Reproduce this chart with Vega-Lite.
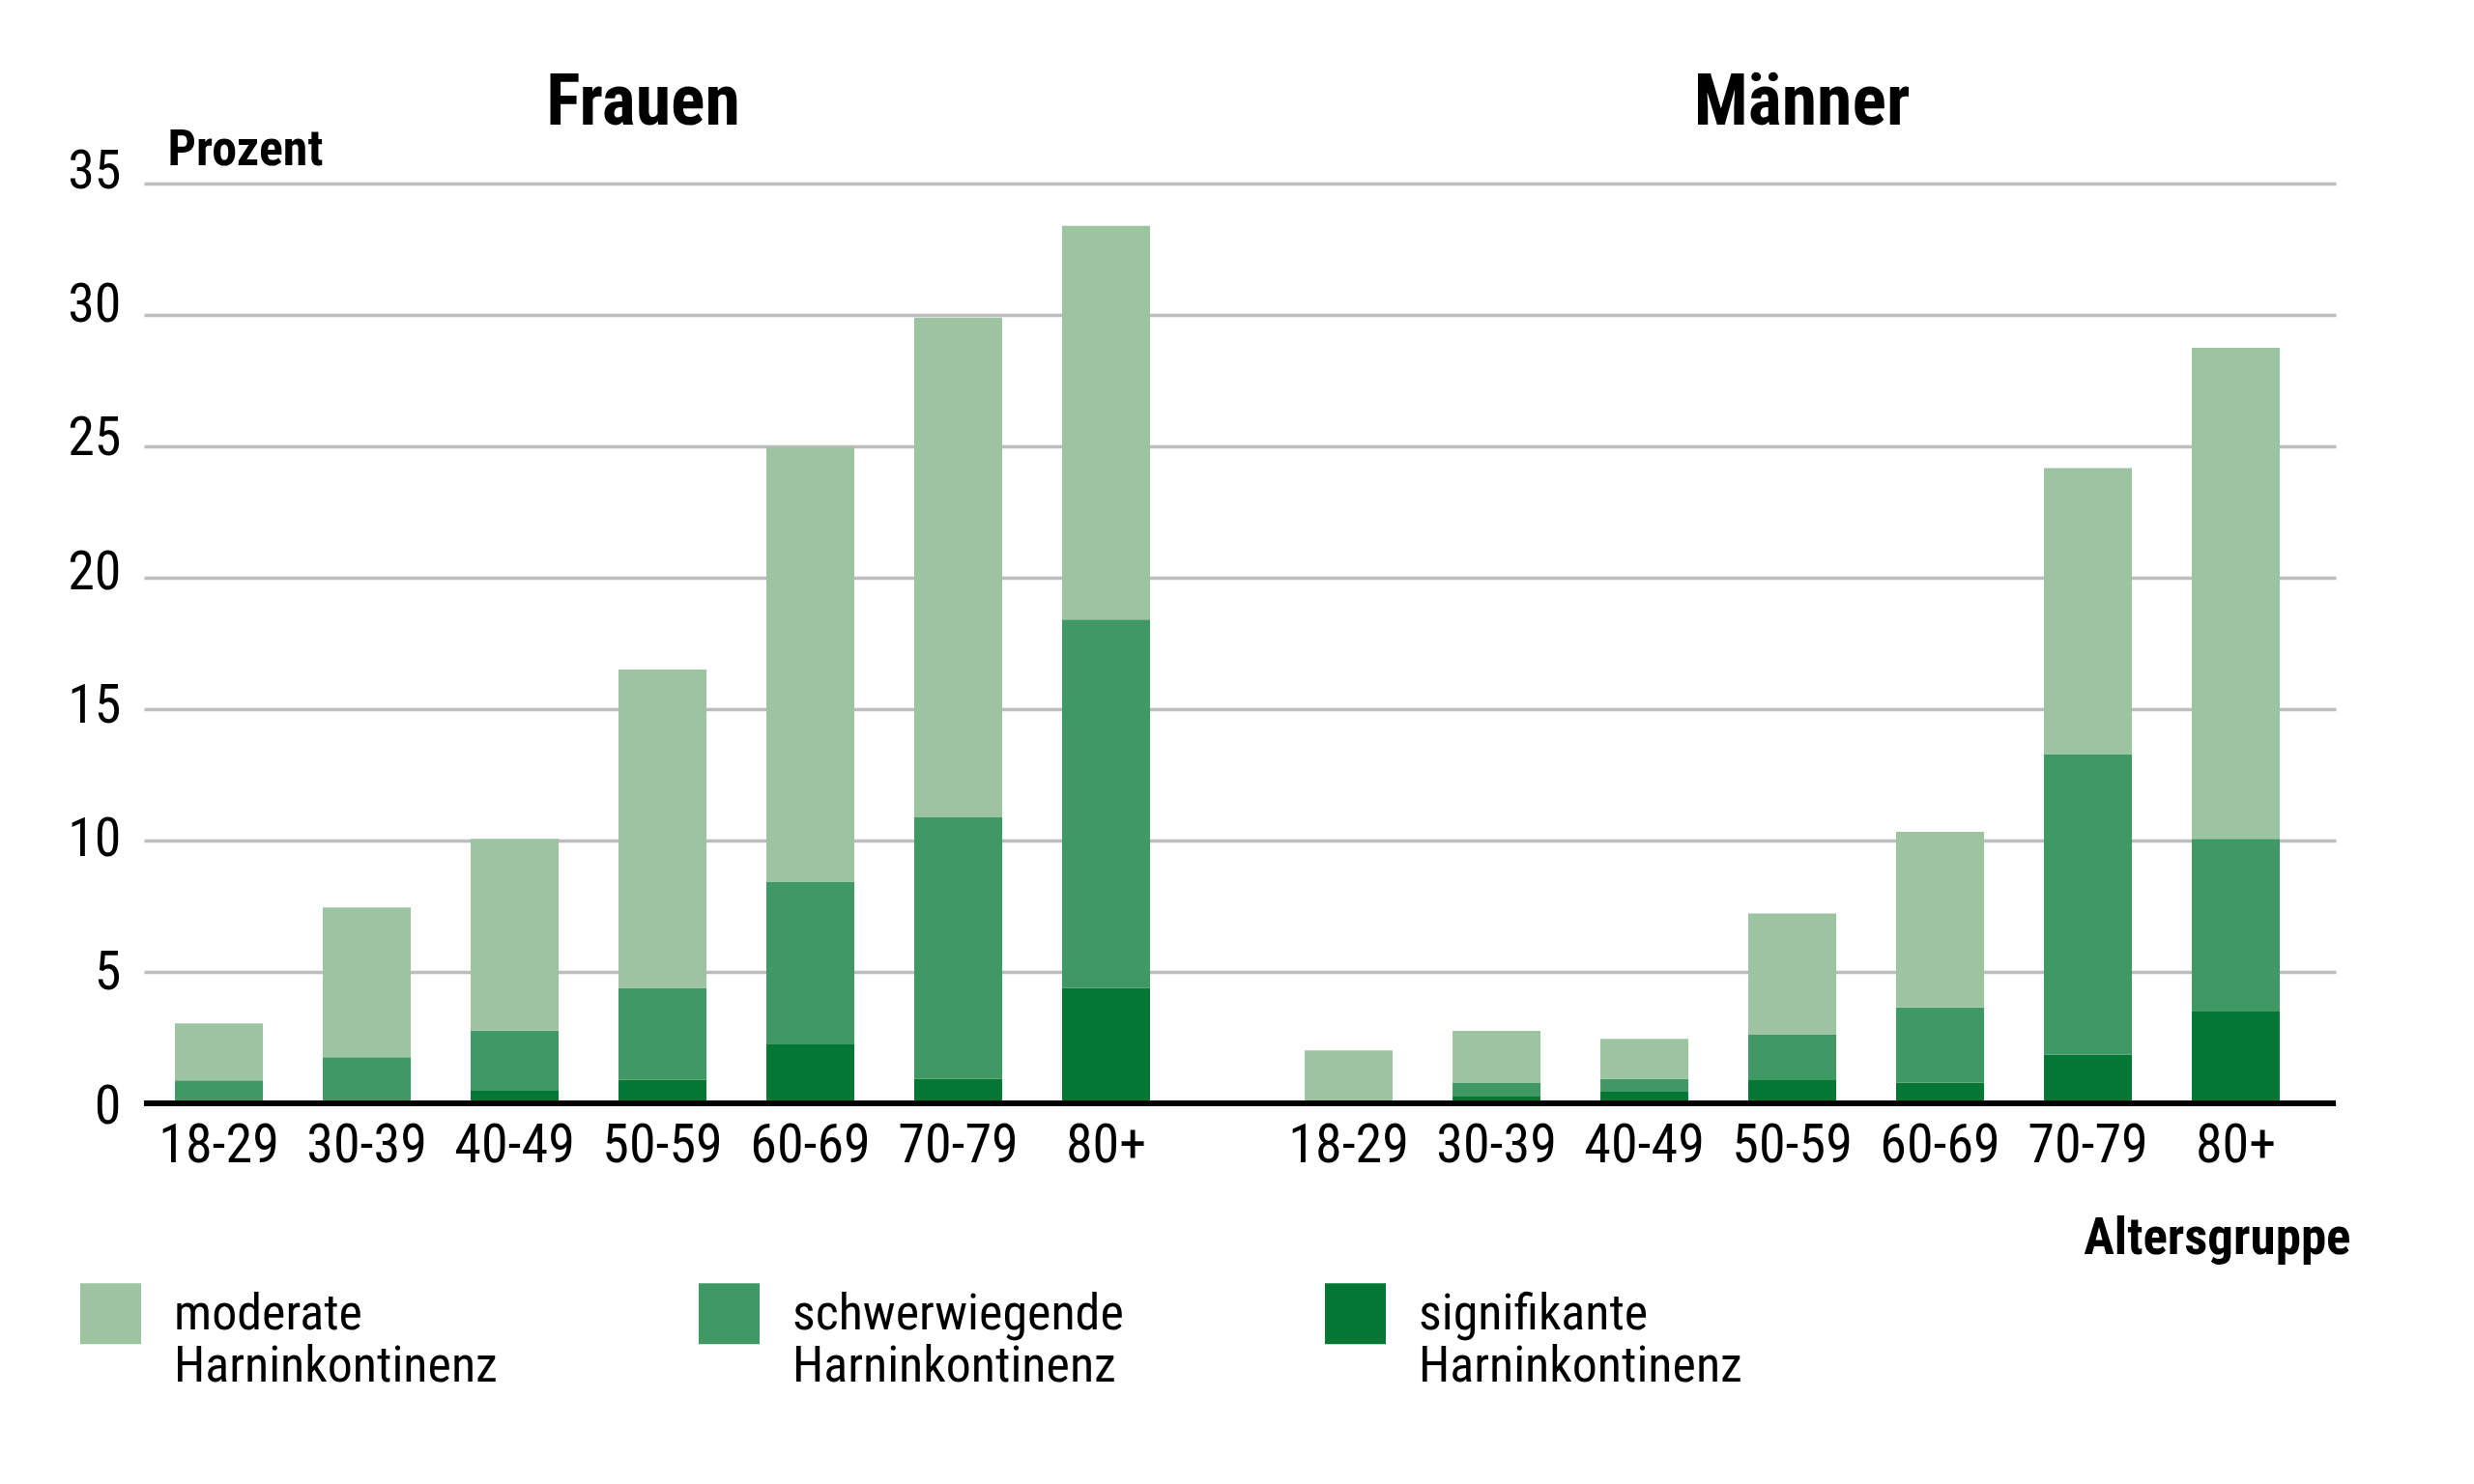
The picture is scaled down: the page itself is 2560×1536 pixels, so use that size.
{
  "$schema": "https://vega.github.io/schema/vega-lite/v6.json",
  "width": 2268,
  "height": 952,
  "autosize": "none",
  "padding": {"left": 149, "top": 190, "right": 143, "bottom": 394},
  "background": "white",
  "config": {
    "font": "'Roboto Condensed', Roboto, sans-serif",
    "view": {"stroke": null}
  },
  "data": {
    "values": [
      {"Geschlecht": "Frauen", "Alter": "18-29", "Typ": "signifikante Harninkontinenz", "Prozent": 0},
      {"Geschlecht": "Frauen", "Alter": "18-29", "Typ": "schwerwiegende Harninkontinenz", "Prozent": 0.87},
      {"Geschlecht": "Frauen", "Alter": "18-29", "Typ": "moderate Harninkontinenz", "Prozent": 2.17},
      {"Geschlecht": "Frauen", "Alter": "30-39", "Typ": "signifikante Harninkontinenz", "Prozent": 0},
      {"Geschlecht": "Frauen", "Alter": "30-39", "Typ": "schwerwiegende Harninkontinenz", "Prozent": 1.76},
      {"Geschlecht": "Frauen", "Alter": "30-39", "Typ": "moderate Harninkontinenz", "Prozent": 5.69},
      {"Geschlecht": "Frauen", "Alter": "40-49", "Typ": "signifikante Harninkontinenz", "Prozent": 0.48},
      {"Geschlecht": "Frauen", "Alter": "40-49", "Typ": "schwerwiegende Harninkontinenz", "Prozent": 2.29},
      {"Geschlecht": "Frauen", "Alter": "40-49", "Typ": "moderate Harninkontinenz", "Prozent": 7.29},
      {"Geschlecht": "Frauen", "Alter": "50-59", "Typ": "signifikante Harninkontinenz", "Prozent": 0.89},
      {"Geschlecht": "Frauen", "Alter": "50-59", "Typ": "schwerwiegende Harninkontinenz", "Prozent": 3.5},
      {"Geschlecht": "Frauen", "Alter": "50-59", "Typ": "moderate Harninkontinenz", "Prozent": 12.12},
      {"Geschlecht": "Frauen", "Alter": "60-69", "Typ": "signifikante Harninkontinenz", "Prozent": 2.24},
      {"Geschlecht": "Frauen", "Alter": "60-69", "Typ": "schwerwiegende Harninkontinenz", "Prozent": 6.2},
      {"Geschlecht": "Frauen", "Alter": "60-69", "Typ": "moderate Harninkontinenz", "Prozent": 16.53},
      {"Geschlecht": "Frauen", "Alter": "70-79", "Typ": "signifikante Harninkontinenz", "Prozent": 0.93},
      {"Geschlecht": "Frauen", "Alter": "70-79", "Typ": "schwerwiegende Harninkontinenz", "Prozent": 9.97},
      {"Geschlecht": "Frauen", "Alter": "70-79", "Typ": "moderate Harninkontinenz", "Prozent": 19.0},
      {"Geschlecht": "Frauen", "Alter": "80+", "Typ": "signifikante Harninkontinenz", "Prozent": 4.39},
      {"Geschlecht": "Frauen", "Alter": "80+", "Typ": "schwerwiegende Harninkontinenz", "Prozent": 14.02},
      {"Geschlecht": "Frauen", "Alter": "80+", "Typ": "moderate Harninkontinenz", "Prozent": 14.98},
      {"Geschlecht": "Männer", "Alter": "18-29", "Typ": "signifikante Harninkontinenz", "Prozent": 0},
      {"Geschlecht": "Männer", "Alter": "18-29", "Typ": "schwerwiegende Harninkontinenz", "Prozent": 0},
      {"Geschlecht": "Männer", "Alter": "18-29", "Typ": "moderate Harninkontinenz", "Prozent": 2.01},
      {"Geschlecht": "Männer", "Alter": "30-39", "Typ": "signifikante Harninkontinenz", "Prozent": 0.26},
      {"Geschlecht": "Männer", "Alter": "30-39", "Typ": "schwerwiegende Harninkontinenz", "Prozent": 0.51},
      {"Geschlecht": "Männer", "Alter": "30-39", "Typ": "moderate Harninkontinenz", "Prozent": 1.99},
      {"Geschlecht": "Männer", "Alter": "40-49", "Typ": "signifikante Harninkontinenz", "Prozent": 0.47},
      {"Geschlecht": "Männer", "Alter": "40-49", "Typ": "schwerwiegende Harninkontinenz", "Prozent": 0.46},
      {"Geschlecht": "Männer", "Alter": "40-49", "Typ": "moderate Harninkontinenz", "Prozent": 1.52},
      {"Geschlecht": "Männer", "Alter": "50-59", "Typ": "signifikante Harninkontinenz", "Prozent": 0.88},
      {"Geschlecht": "Männer", "Alter": "50-59", "Typ": "schwerwiegende Harninkontinenz", "Prozent": 1.75},
      {"Geschlecht": "Männer", "Alter": "50-59", "Typ": "moderate Harninkontinenz", "Prozent": 4.59},
      {"Geschlecht": "Männer", "Alter": "60-69", "Typ": "signifikante Harninkontinenz", "Prozent": 0.78},
      {"Geschlecht": "Männer", "Alter": "60-69", "Typ": "schwerwiegende Harninkontinenz", "Prozent": 2.87},
      {"Geschlecht": "Männer", "Alter": "60-69", "Typ": "moderate Harninkontinenz", "Prozent": 6.68},
      {"Geschlecht": "Männer", "Alter": "70-79", "Typ": "signifikante Harninkontinenz", "Prozent": 1.85},
      {"Geschlecht": "Männer", "Alter": "70-79", "Typ": "schwerwiegende Harninkontinenz", "Prozent": 11.42},
      {"Geschlecht": "Männer", "Alter": "70-79", "Typ": "moderate Harninkontinenz", "Prozent": 10.9},
      {"Geschlecht": "Männer", "Alter": "80+", "Typ": "signifikante Harninkontinenz", "Prozent": 3.49},
      {"Geschlecht": "Männer", "Alter": "80+", "Typ": "schwerwiegende Harninkontinenz", "Prozent": 6.57},
      {"Geschlecht": "Männer", "Alter": "80+", "Typ": "moderate Harninkontinenz", "Prozent": 18.69}
    ]
  },
  "layer": [
    {
      "mark": {"type": "bar"},
      "encoding": {
        "x": {
          "field": "Geschlecht",
          "type": "nominal",
          "scale": {"domain": ["Frauen", "Männer"], "paddingInner": 0.1369, "paddingOuter": 0.0385, "align": 0.356},
          "axis": {
            "orient": "top",
            "domain": false,
            "ticks": false,
            "tickSize": 0,
            "labelPadding": 62,
            "labelFontSize": 74,
            "labelFontWeight": "bold",
            "labelColor": "black",
            "labelBaseline": "alphabetic",
            "labelAngle": 0,
            "labelLimit": 1000,
            "labelOffset": {"condition": {"test": "datum.value === 'Frauen'", "value": -20}, "value": 10},
            "title": "Altersgruppe",
            "titleX": 2283,
            "titleY": 1107,
            "titleAlign": "right",
            "titleBaseline": "alphabetic",
            "titleAngle": 0,
            "titleFontSize": 53,
            "titleFontWeight": "bold",
            "titleColor": "black"
          }
        },
        "xOffset": {
          "field": "Alter",
          "type": "nominal",
          "scale": {"domain": ["18-29", "30-39", "40-49", "50-59", "60-69", "70-79", "80+"], "paddingInner": 0.405, "paddingOuter": 0}
        },
        "y": {
          "field": "Prozent",
          "type": "quantitative",
          "stack": "zero",
          "scale": {"domain": [0, 35], "nice": false},
          "axis": {
            "orient": "left",
            "values": [0, 5, 10, 15, 20, 25, 30, 35],
            "grid": true,
            "gridColor": "#bdbdbd",
            "gridWidth": 3.5,
            "domain": false,
            "ticks": false,
            "tickSize": 0,
            "labelPadding": 24,
            "labelFontSize": 56,
            "labelColor": "black",
            "labelBaseline": "middle",
            "labelOffset": {"condition": {"test": "datum.value >= 0", "expr": "3 - 0.45 * datum.value"}, "value": 0},
            "title": "Prozent",
            "titleAngle": 0,
            "titleAlign": "left",
            "titleBaseline": "alphabetic",
            "titleX": 24,
            "titleY": -20,
            "titleFontSize": 52,
            "titleFontWeight": "bold",
            "titleColor": "black"
          }
        },
        "color": {
          "field": "Typ",
          "type": "nominal",
          "scale": {
            "domain": ["moderate Harninkontinenz", "schwerwiegende Harninkontinenz", "signifikante Harninkontinenz"],
            "range": ["#9cc4a0", "#409864", "#037733"]
          },
          "legend": {
            "title": null,
            "orient": "none",
            "legendX": -66,
            "legendY": 1138,
            "direction": "horizontal",
            "columns": 3,
            "padding": 0,
            "symbolType": "square",
            "symbolSize": 3969,
            "symbolStrokeWidth": 0,
            "symbolOpacity": 1,
            "labelFontSize": 52,
            "labelColor": "black",
            "labelOffset": 34,
            "labelLimit": 1000,
            "labelBaseline": "middle",
            "labelLineHeight": 53,
            "columnPadding": 208,
            "labelExpr": "split(datum.label, ' ')"
          }
        },
        "order": {"field": "Typ", "sort": "descending"}
      }
    },
    {
      "transform": [{"filter": "datum.Typ === 'moderate Harninkontinenz'"}],
      "mark": {"type": "text", "baseline": "alphabetic", "dy": 61, "fontSize": 56, "color": "black"},
      "encoding": {
        "x": {"field": "Geschlecht", "type": "nominal"},
        "xOffset": {"field": "Alter", "type": "nominal"},
        "y": {"datum": 0},
        "text": {"field": "Alter"}
      }
    },
    {
      "mark": {"type": "rule", "color": "black", "strokeWidth": 5},
      "encoding": {"y": {"datum": 0}}
    }
  ]
}
